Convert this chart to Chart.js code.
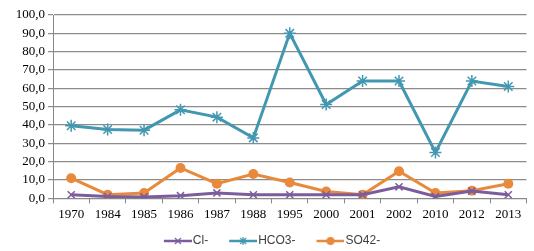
<!DOCTYPE html>
<html>
<head>
<meta charset="utf-8">
<script src="https://cdn.jsdelivr.net/npm/chart.js@4.4.0/dist/chart.umd.min.js"></script>
<style>
  html, body { margin: 0; padding: 0; background: #fff; }
  #wrap { width: 534px; height: 251px; }
</style>
</head>
<body>
<div id="wrap"><canvas id="chart"></canvas></div>
<script>
// data
const years = ['1970', '1984', '1985', '1986', '1987', '1988', '1995', '2000', '2001', '2002', '2010', '2012', '2013'];
const cl   = [2.0, 1.0, 0.8, 1.5, 3.0, 2.0, 2.0, 2.0, 2.0, 6.3, 1.0, 4.0, 2.0];
const hco3 = [39.6, 37.6, 37.2, 48.3, 44.3, 33.0, 90.0, 51.2, 64.0, 64.0, 25.0, 64.0, 61.0];
const so4  = [11.0, 2.0, 2.9, 16.6, 8.0, 13.3, 8.7, 3.8, 2.0, 14.8, 2.9, 4.2, 8.0];
const names = ['Cl-', 'HCO3-', 'SO42-'];

const purple = '#7b5c9d';
const teal = '#4298b0';
const orange = '#e8893b';

// legend icon: blank gap on the left, then a short line with its marker
function legendIcon(color, style) {
  const c = document.createElement('canvas');
  c.width = 44; c.height = 12;
  const g = c.getContext('2d');
  g.strokeStyle = color; g.fillStyle = color; g.lineWidth = 2.5;
  g.beginPath(); g.moveTo(16, 6); g.lineTo(44, 6); g.stroke();
  const cx = 30;
  g.lineWidth = 1.3;
  if (style === 'circle') {
    g.beginPath(); g.arc(cx, 6, 4, 0, Math.PI * 2); g.fill();
  } else {
    g.beginPath();
    g.moveTo(cx - 3, 3); g.lineTo(cx + 3, 9);
    g.moveTo(cx + 3, 3); g.lineTo(cx - 3, 9);
    if (style === 'star') { g.moveTo(cx, 2); g.lineTo(cx, 10); }
    g.stroke();
  }
  return c;
}

const icons = [legendIcon(purple, 'crossRot'), legendIcon(teal, 'star'), legendIcon(orange, 'circle')];

// keep the legend row low without pushing the plot up
const legendFit = {
  id: 'legendFit',
  beforeInit(chart) {
    const fit = chart.legend.fit;
    chart.legend.fit = function () {
      fit.bind(chart.legend)();
      this.height -= 6;
    };
  }
};

new Chart(document.getElementById('chart'), {
  type: 'line',
  data: {
    labels: years,
    datasets: [
      { label: names[0], data: cl, borderColor: purple, backgroundColor: purple, borderWidth: 3,
        pointStyle: 'crossRot', pointRadius: 5, pointBorderWidth: 1.5, tension: 0 },
      { label: names[1], data: hco3, borderColor: teal, backgroundColor: teal, borderWidth: 3,
        pointStyle: 'star', pointRadius: 6, pointBorderWidth: 1.5, tension: 0 },
      { label: names[2], data: so4, borderColor: orange, backgroundColor: orange, borderWidth: 3,
        pointStyle: 'circle', pointRadius: 5, pointBorderWidth: 0, tension: 0 }
    ]
  },
  options: {
    responsive: true,
    maintainAspectRatio: false,
    animation: false,
    layout: { padding: { top: 15, right: 3, left: 2, bottom: 0 } },
    scales: {
      x: {
        offset: true,
        grid: { offset: true, drawOnChartArea: false, color: '#888', tickLength: 5 },
        border: { color: '#888' },
        ticks: { color: '#000', font: { family: 'Liberation Serif', size: 13 }, maxRotation: 0, autoSkip: false, padding: 3 }
      },
      y: {
        min: 0, max: 100,
        afterFit: (scale) => { scale.width = 51; },
        grid: { color: '#8c8c8c', lineWidth: 1.2, tickLength: 5 },
        border: { color: '#888' },
        ticks: {
          stepSize: 10, autoSkip: false, color: '#000', padding: 3,
          font: { family: 'Liberation Serif', size: 13 },
          callback: v => v.toFixed(1).replace('.', ',')
        }
      }
    },
    plugins: {
      tooltip: { enabled: false },
      legend: {
        position: 'bottom',
        labels: {
          usePointStyle: true,
          pointStyleWidth: 34,
          padding: 10,
          color: '#404040',
          font: { family: 'Liberation Sans', size: 12 },
          generateLabels: (chart) => chart.data.datasets.map((ds, i) => ({
            text: ds.label, pointStyle: icons[i], datasetIndex: i,
            fontColor: '#404040', lineWidth: 0, strokeStyle: 'transparent', fillStyle: 'transparent'
          }))
        }
      }
    }
  },
  plugins: [legendFit]
});
</script>
</body>
</html>
